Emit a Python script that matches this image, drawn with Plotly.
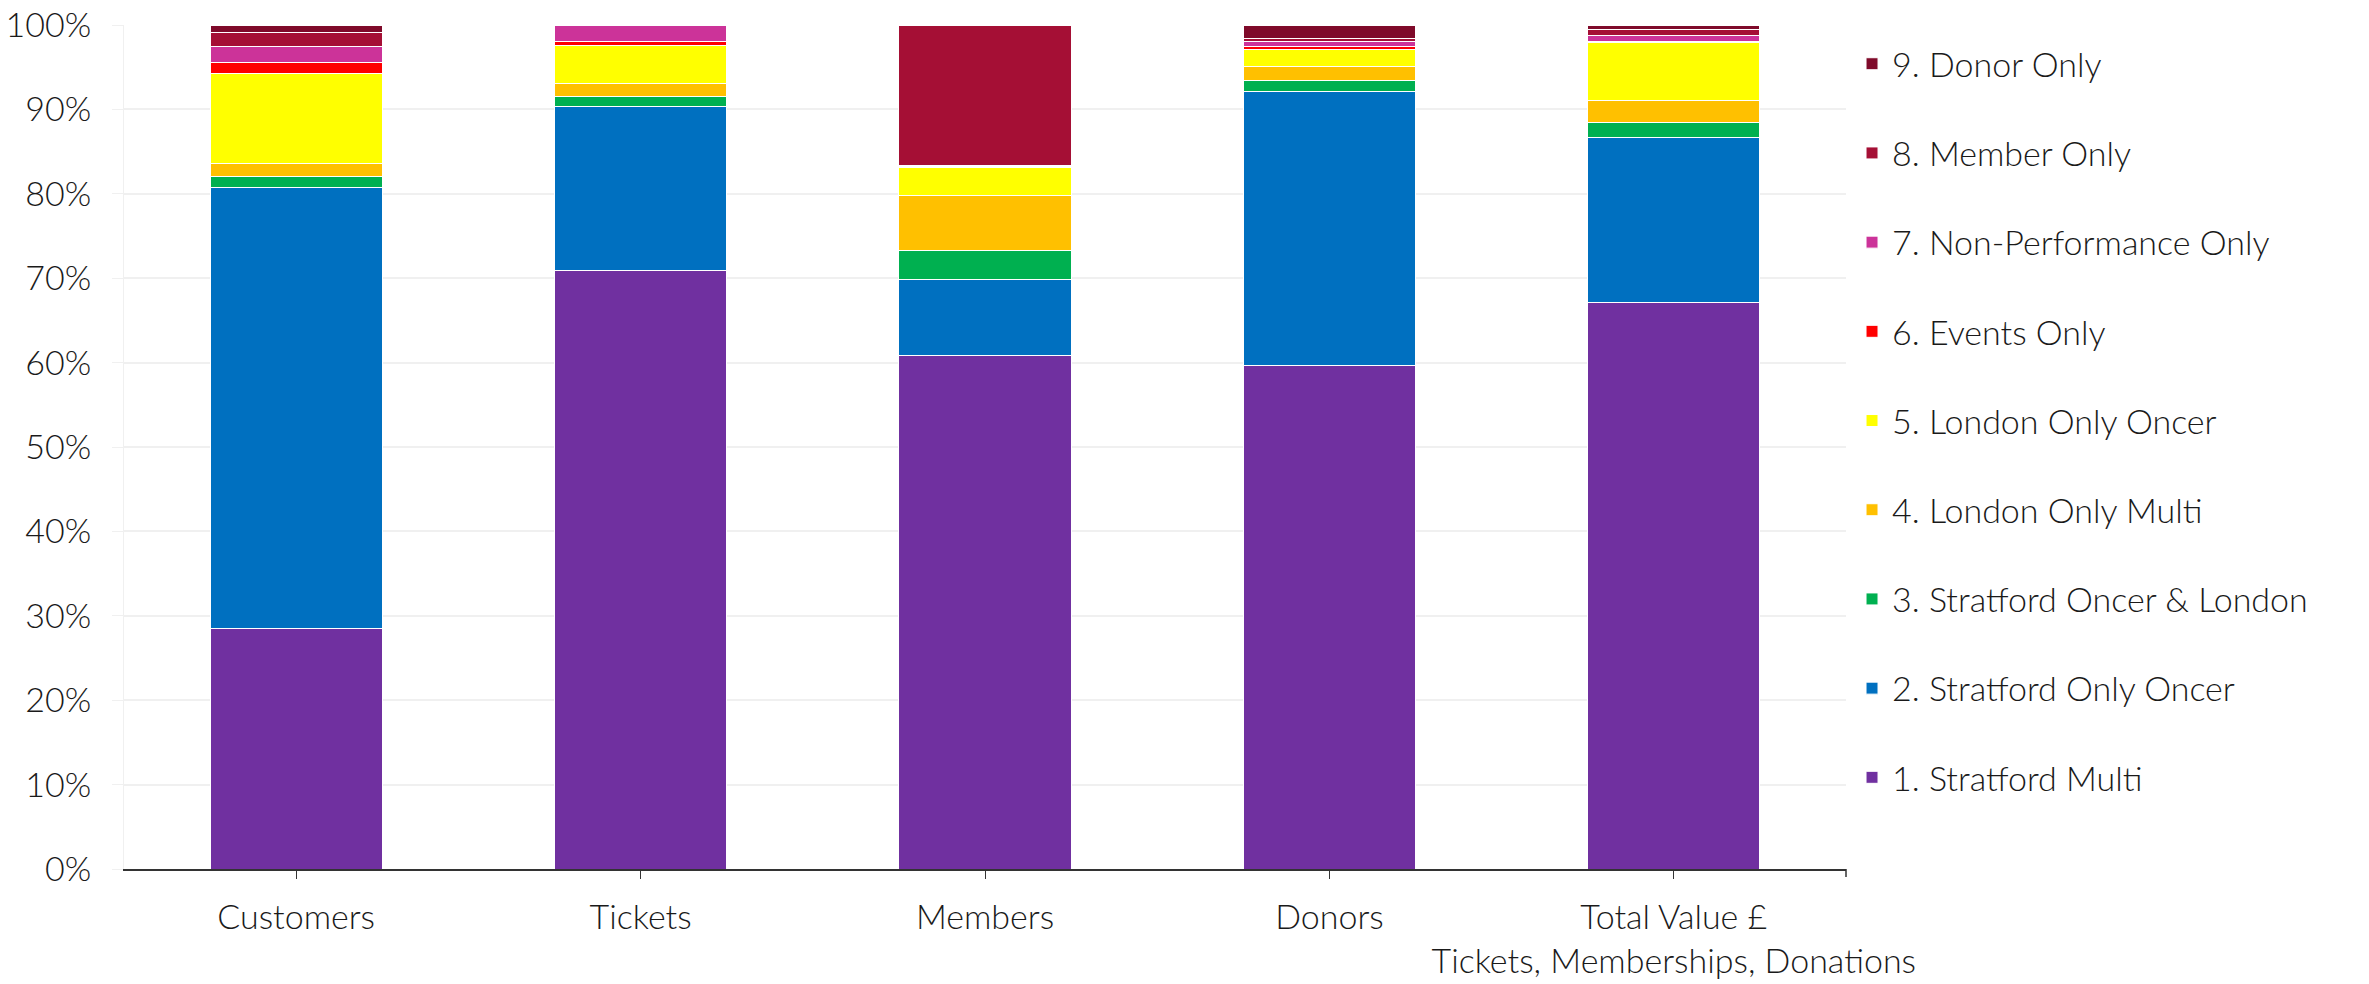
import plotly.graph_objects as go

# Audience segments by category (share of each column, %)
categories = [
    "Customers",
    "Tickets",
    "Members",
    "Donors",
    "Total Value £<br>Tickets, Memberships, Donations",
]

segment_names = [
    "1. Stratford Multi",
    "2. Stratford Only Oncer",
    "3. Stratford Oncer & London",
    "4. London Only Multi",
    "5. London Only Oncer",
    "6. Events Only",
    "7. Non-Performance Only",
    "8. Member Only",
    "9. Donor Only",
]

stratford_multi = [28.5, 70.9, 60.9, 59.7, 67.1]
stratford_only_oncer = [52.3, 19.4, 9.0, 32.4, 19.6]
stratford_oncer_london = [1.2, 1.2, 3.4, 1.3, 1.7]
london_only_multi = [1.6, 1.6, 6.5, 1.7, 2.6]
london_only_oncer = [10.7, 4.5, 3.3, 2.0, 6.9]
events_only = [1.2, 0.4, 0.1, 0.4, 0.2]
non_performance_only = [1.9, 2.0, 0.1, 0.5, 0.7]
member_only = [1.7, 0.0, 16.7, 0.4, 0.7]
donor_only = [0.9, 0.0, 0.0, 1.6, 0.5]

series_values = [
    stratford_multi,
    stratford_only_oncer,
    stratford_oncer_london,
    london_only_multi,
    london_only_oncer,
    events_only,
    non_performance_only,
    member_only,
    donor_only,
]

colors = [
    "#7030A0",
    "#0070C0",
    "#00B050",
    "#FFC000",
    "#FFFF00",
    "#FF0000",
    "#CC3399",
    "#A50F35",
    "#7F0A2A",
]

y_ticks = list(range(0, 101, 10))
y_tick_labels = [f"{v}%" for v in y_ticks]

FONT = "Lato, 'Open Sans', sans-serif"
TEXT = "#1a1a1a"

fig = go.Figure()
n = len(segment_names)
for i, (name, vals, col) in enumerate(zip(segment_names, series_values, colors)):
    fig.add_trace(
        go.Bar(
            x=categories,
            y=vals,
            name=name,
            legendgroup=f"g{i}",
            legendrank=(n - i) * 10,  # last segment listed first
            marker=dict(color=col, line=dict(color="white", width=1)),
        )
    )

fig.update_layout(
    width=2369,
    height=984,
    barmode="stack",
    bargap=0.5,
    plot_bgcolor="white",
    paper_bgcolor="white",
    margin=dict(l=124, r=523, t=25, b=115),
    font=dict(family=FONT, size=34, color=TEXT, weight=300),
    legend=dict(
        traceorder="grouped",
        x=1.0035,
        xanchor="left",
        y=0.988,
        yanchor="top",
        font=dict(family=FONT, size=34, color=TEXT, weight=300),
        tracegroupgap=42,
        itemwidth=30,
        bgcolor="rgba(0,0,0,0)",
    ),
    showlegend=True,
)

fig.update_xaxes(
    automargin=False,
    showline=True,
    linecolor="#333333",
    linewidth=1.5,
    ticks="outside",
    ticklen=8,
    tickcolor="#333333",
    ticklabelstandoff=9,
    tickfont=dict(family=FONT, size=34, color=TEXT, weight=300),
    showgrid=False,
)

fig.update_yaxes(
    automargin=False,
    range=[0, 100],
    tickmode="array",
    tickvals=y_ticks,
    ticktext=y_tick_labels,
    showgrid=True,
    gridcolor="#F0F0F0",
    gridwidth=1.5,
    showline=True,
    linecolor="#F0F0F0",
    ticks="outside",
    ticklen=11,
    tickcolor="#F0F0F0",
    ticklabelstandoff=14,
    tickfont=dict(family=FONT, size=34, color=TEXT, weight=300),
    zeroline=False,
)

# closing tick at the right end of the category axis
fig.add_shape(
    type="line",
    xref="paper",
    yref="paper",
    x0=1,
    x1=1,
    y0=0,
    y1=-0.0095,
    line=dict(color="#333333", width=1.5),
)

fig.write_html("out.html")
